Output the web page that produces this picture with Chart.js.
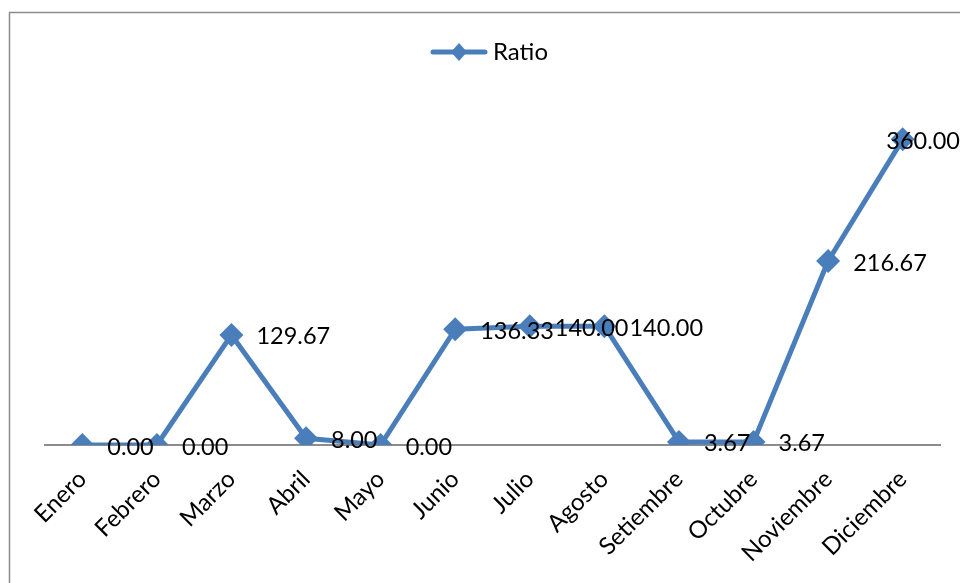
<!DOCTYPE html>
<html>
<head>
<meta charset="utf-8">
<script src="https://cdn.jsdelivr.net/npm/chart.js@4.4.0/dist/chart.umd.min.js"></script>
<style>
  html, body { margin: 0; padding: 0; background: #fff; }
  #wrap { width: 960px; height: 583px; }
</style>
</head>
<body>
<div id="wrap"><canvas id="grafico"></canvas></div>
<script>
const meses = ['Enero', 'Febrero', 'Marzo', 'Abril', 'Mayo', 'Junio', 'Julio', 'Agosto', 'Setiembre', 'Octubre', 'Noviembre', 'Diciembre'];
const ratio = [0, 0, 129.67, 8, 0, 136.33, 140, 140, 3.67, 3.67, 216.67, 360];
const serieNombre = 'Ratio';

const azul = '#4A7EBB';
const fuente = 'Lato, "Liberation Sans", sans-serif';

// simbolo de leyenda: linea con rombo
function simboloLeyenda() {
    const c = document.createElement('canvas');
    c.width = 58; c.height = 20;
    const g = c.getContext('2d');
    g.strokeStyle = azul;
    g.lineWidth = 5;
    g.lineCap = 'round';
    g.beginPath(); g.moveTo(3, 10); g.lineTo(55, 10); g.stroke();
    g.fillStyle = azul;
    g.beginPath(); g.moveTo(29, 1); g.lineTo(37, 10); g.lineTo(29, 19); g.lineTo(21, 10); g.closePath(); g.fill();
    return c;
}

// etiquetas de datos a la derecha de cada punto
const etiquetas = {
    id: 'etiquetas',
    afterDatasetsDraw(chart) {
        const ctx = chart.ctx;
        const meta = chart.getDatasetMeta(0);
        ctx.save();
        ctx.font = '23.5px ' + fuente;
        ctx.fillStyle = '#000';
        ctx.textBaseline = 'middle';
        ctx.textAlign = 'left';
        meta.data.forEach((p, i) => {
            const txt = ratio[i].toFixed(2);
            const w = ctx.measureText(txt).width;
            const x = Math.min(p.x + 25, chart.width - w);
            ctx.fillText(txt, x, p.y + 2);
        });
        ctx.restore();
    }
};

// borde del area del grafico
const borde = {
    id: 'borde',
    beforeDraw(chart) {
        const ctx = chart.ctx;
        ctx.save();
        ctx.strokeStyle = '#8c8c8c';
        ctx.lineWidth = 1.5;
        ctx.strokeRect(9.5, 12.5, 1000, 600);
        ctx.restore();
    }
};

new Chart(document.getElementById('grafico'), {
    type: 'line',
    data: {
        labels: meses,
        datasets: [{
            label: serieNombre,
            data: ratio,
            borderColor: azul,
            backgroundColor: azul,
            borderWidth: 5,
            borderJoinStyle: 'round',
            borderCapStyle: 'round',
            pointStyle: 'rectRot',
            pointRadius: 12,
            pointBorderWidth: 0,
            pointBackgroundColor: azul,
            tension: 0
        }]
    },
    options: {
        responsive: true,
        maintainAspectRatio: false,
        animation: false,
        layout: { padding: { top: 30, left: 45, right: 20, bottom: 0 } },
        plugins: {
            legend: {
                position: 'top',
                labels: {
                    usePointStyle: true,
                    pointStyleWidth: 44,
                    padding: 10,
                    color: '#000',
                    font: { family: fuente, size: 24 },
                    generateLabels: function (chart) {
                        return [{ text: serieNombre, pointStyle: simboloLeyenda(), datasetIndex: 0, lineWidth: 0 }];
                    }
                }
            },
            tooltip: { enabled: false }
        },
        scales: {
            x: {
                offset: true,
                grid: { display: false, drawTicks: false },
                border: { display: true, color: '#8c8c8c', width: 2 },
                ticks: {
                    color: '#000',
                    font: { family: fuente, size: 24 },
                    minRotation: 45,
                    maxRotation: 45,
                    padding: 20,
                    autoSkip: false
                },
                afterFit: function (scale) { scale.height = 138; }
            },
            y: {
                display: false,
                min: 0,
                max: 437
            }
        }
    },
    plugins: [borde, etiquetas]
});
</script>
</body>
</html>
